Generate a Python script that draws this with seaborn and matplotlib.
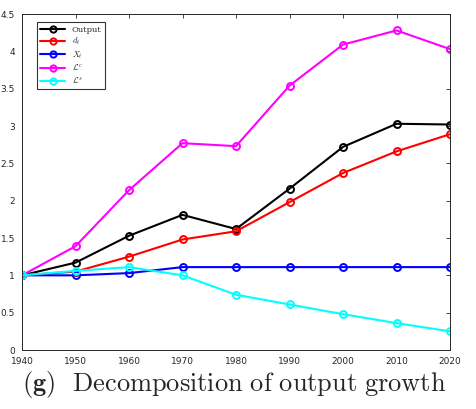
import matplotlib
matplotlib.use("Agg")
import matplotlib.pyplot as plt
import seaborn as sns
import pandas as pd

years = [1940, 1950, 1960, 1970, 1980, 1990, 2000, 2010, 2020]
output = [1.0, 1.17, 1.53, 1.81, 1.62, 2.16, 2.72, 3.03, 3.02]
d_t = [1.0, 1.05, 1.25, 1.48, 1.59, 1.98, 2.37, 2.66, 2.89]
x_t = [1.0, 1.0, 1.03, 1.11, 1.11, 1.11, 1.11, 1.11, 1.11]
l_c = [1.0, 1.39, 2.14, 2.77, 2.73, 3.54, 4.09, 4.28, 4.03]
l_s = [1.0, 1.06, 1.11, 1.0, 0.74, 0.61, 0.48, 0.36, 0.25]

labels = ["Output", r"$d_t$", r"$X_t$", r"$\mathcal{L}^c$", r"$\mathcal{L}^s$"]
series = [output, d_t, x_t, l_c, l_s]
colors = ["black", "red", "blue", "magenta", "cyan"]

rows = []
for lab, vals in zip(labels, series):
    for y, v in zip(years, vals):
        rows.append({"year": y, "value": v, "series": lab})
df = pd.DataFrame(rows)

sns.set_style("white")
plt.rcParams["mathtext.fontset"] = "cm"

fig = plt.figure(figsize=(4.77, 4.09), dpi=100)
ax = fig.add_axes([22/477, 1 - 350/409, (450-22)/477, (350-14)/409])

sns.lineplot(data=df, x="year", y="value", hue="series", hue_order=labels,
             palette=dict(zip(labels, colors)), marker="o", markersize=5,
             markerfacecolor="none", markeredgewidth=1.4, linewidth=1.5,
             ax=ax)
for line in ax.lines:
    line.set_markeredgecolor(line.get_color())
    line.set_markerfacecolor("none")

ax.set_xlim(1940, 2020)
ax.set_ylim(0, 4.5)
ax.set_xticks(years)
ax.set_yticks([0, 0.5, 1, 1.5, 2, 2.5, 3, 3.5, 4, 4.5])
ax.set_yticklabels(["0", "0.5", "1", "1.5", "2", "2.5", "3", "3.5", "4", "4.5"])
ax.set_xlabel("")
ax.set_ylabel("")
ax.tick_params(direction="in", top=True, right=True, labelsize=6.5,
               length=3, width=0.6, colors="#262626", pad=5)
for s in ax.spines.values():
    s.set_color("#262626")
    s.set_linewidth(0.7)

leg = ax.legend(loc="upper left", bbox_to_anchor=(0.035, 0.975), fontsize=6,
                frameon=True, fancybox=False, edgecolor="black",
                handlelength=3.0, borderpad=0.4, labelspacing=0.25,
                borderaxespad=0)
leg.get_frame().set_linewidth(0.8)
for h in leg.legend_handles:
    h.set_markerfacecolor("none")
    h.set_markeredgewidth(1.4)
    h.set_markersize(4.5)
for t in leg.get_texts():
    t.set_family("serif")

fig.text(0.49, 1 - 385/409,
         r"$\mathbf{(g)}$  $\mathrm{Decomposition\ of\ output\ growth}$",
         ha="center", va="center", fontsize=19)

fig.savefig("out.png", dpi=100)
